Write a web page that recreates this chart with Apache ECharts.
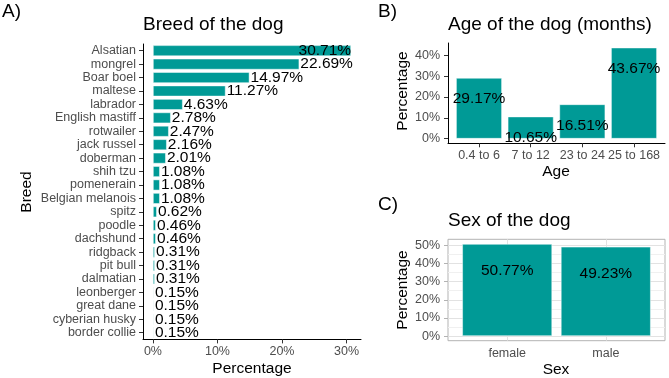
<!DOCTYPE html>
<html>
<head>
<meta charset="utf-8">
<script src="https://cdn.jsdelivr.net/npm/echarts@6/dist/echarts.min.js"></script>
<style>
  html, body { margin: 0; padding: 0; background: #fff; }
  #main { width: 669px; height: 378px; }
</style>
</head>
<body>
<div id="main"></div>
<script>
// A) breed
const breeds = ['Alsatian', 'mongrel', 'Boar boel', 'maltese', 'labrador', 'English mastiff', 'rotwailer',
  'jack russel', 'doberman', 'shih tzu', 'pomenerain', 'Belgian melanois', 'spitz', 'poodle', 'dachshund',
  'ridgback', 'pit bull', 'dalmatian', 'leonberger', 'great dane', 'cyberian husky', 'border collie'];
const breedPct = [30.71, 22.69, 14.97, 11.27, 4.63, 2.78, 2.47, 2.16, 2.01, 1.08, 1.08, 1.08, 0.62, 0.46, 0.46,
  0.31, 0.31, 0.31, 0.15, 0.15, 0.15, 0.15];
const breedTicks = [0, 10, 20, 30];

// B) age
const ageGroups = ['0.4 to 6', '7 to 12', '23 to 24', '25 to 168'];
const agePct = [29.17, 10.65, 16.51, 43.67];
const ageTicks = [0, 10, 20, 30, 40];

// C) sex
const sexes = ['female', 'male'];
const sexPct = [50.77, 49.23];
const sexTicks = [0, 10, 20, 30, 40, 50];
const sexMinorTicks = [5, 15, 25, 35, 45];

const FONT = '"Liberation Sans", Arial, sans-serif';
const TEAL = '#009A96';
const TICK_GREY = '#4D4D4D';

// ggplot style 5% expansion
function expand(maxV) {
    const pad = maxV * 0.05;
    return { min: -pad, max: maxV + pad };
}

function pct(v) {
    return v + '%';
}

function labelStyle(margin) {
    return { color: TICK_GREY, fontSize: 12.5, fontFamily: FONT, margin: margin };
}

const blackLine = { show: true, onZero: false, lineStyle: { color: '#000', width: 1 } };
const blackTick = { show: true, length: 4, lineStyle: { color: '#333', width: 1 } };
const greyTick = { show: true, length: 4, lineStyle: { color: '#B3B3B3', width: 1 } };

function txt(text, x, y, size, opts) {
    opts = opts || {};
    return {
        type: 'text',
        x: x, y: y,
        rotation: opts.rotate ? Math.PI / 2 : 0,
        style: {
            text: text,
            fill: '#000',
            font: size + 'px ' + FONT,
            align: opts.align || 'left',
            verticalAlign: 'middle'
        }
    };
}

const rangeA = expand(Math.max(...breedPct));
const rangeB = expand(Math.max(...agePct));
const rangeC = expand(Math.max(...sexPct));

const barLabel = { show: true, color: '#000', fontSize: 15.5, fontFamily: FONT, formatter: p => {
    const v = Array.isArray(p.value) ? p.value[1] : p.value;
    return v.toFixed(2) + '%';
} };

const gridLine = (c) => ({ color: c, width: 1, type: 'solid' });

const chart = echarts.init(document.getElementById('main'));
chart.setOption({
    animation: false,
    backgroundColor: '#fff',
    grid: [
        { left: 143, top: 44, width: 218, height: 295.4, outerBoundsMode: 'none' },
        { left: 448, top: 43, width: 217, height: 100.3, outerBoundsMode: 'none' },
        { left: 448, top: 239.3, width: 217, height: 101.4, show: true, borderColor: '#B3B3B3', borderWidth: 1, outerBoundsMode: 'none' }
    ],
    xAxis: [
        {
            gridIndex: 0, type: 'value', min: rangeA.min, max: rangeA.max,
            axisLine: blackLine, axisTick: Object.assign({ customValues: breedTicks }, blackTick),
            axisLabel: Object.assign({ customValues: breedTicks, formatter: pct }, labelStyle(6)),
            splitLine: { show: false }
        },
        {
            gridIndex: 1, type: 'value', min: 0.4, max: ageGroups.length + 0.6,
            axisLine: blackLine, axisTick: Object.assign({ customValues: ageGroups.map((d, i) => i + 1) }, blackTick),
            axisLabel: Object.assign({ customValues: ageGroups.map((d, i) => i + 1), formatter: v => ageGroups[v - 1] }, labelStyle(6)),
            splitLine: { show: false }
        },
        {
            gridIndex: 2, type: 'value', min: 0.4, max: sexes.length + 0.6,
            axisLine: { show: false }, axisTick: Object.assign({ customValues: sexes.map((d, i) => i + 1) }, greyTick),
            axisLabel: Object.assign({ customValues: sexes.map((d, i) => i + 1), formatter: v => sexes[v - 1] }, labelStyle(6)),
            splitLine: { show: false }
        }
    ],
    yAxis: [
        {
            gridIndex: 0, type: 'category', data: breeds, inverse: true,
            axisLine: blackLine, axisTick: Object.assign({ alignWithLabel: true, interval: 0 }, blackTick),
            axisLabel: Object.assign({ interval: 0 }, labelStyle(7))
        },
        {
            gridIndex: 1, type: 'value', min: rangeB.min, max: rangeB.max,
            axisLine: blackLine, axisTick: Object.assign({ customValues: ageTicks }, blackTick),
            axisLabel: Object.assign({ customValues: ageTicks, formatter: pct }, labelStyle(8)),
            splitLine: { show: false }
        },
        {
            gridIndex: 2, type: 'value', min: rangeC.min, max: rangeC.max,
            axisLine: { show: false }, axisTick: Object.assign({ customValues: sexTicks }, greyTick),
            axisLabel: Object.assign({ customValues: sexTicks, formatter: pct }, labelStyle(8)),
            splitLine: { show: false }
        }
    ],
    series: [
        {
            type: 'bar', xAxisIndex: 0, yAxisIndex: 0, barWidth: 11,
            itemStyle: { color: TEAL, borderColor: 'rgba(255,255,255,0.6)', borderWidth: 0.8 },
            label: Object.assign({ position: 'right', distance: 1 }, barLabel),
            // biggest bar: label sits inside, as in the original
            data: breedPct.map((v, i) => i === 0 ? { value: v, label: { position: 'insideRight', distance: 0 } } : v)
        },
        {
            type: 'bar', xAxisIndex: 1, yAxisIndex: 1, barWidth: 46,
            itemStyle: { color: TEAL, borderColor: 'rgba(255,255,255,0.6)', borderWidth: 0.8 },
            label: Object.assign({ position: 'insideTop', distance: 13 }, barLabel),
            data: agePct.map((v, i) => [i + 1, v])
        },
        {
            type: 'line', xAxisIndex: 2, yAxisIndex: 2, data: [], z: 1,
            markLine: {
                silent: true, symbol: 'none', label: { show: false }, z: 1,
                data: sexMinorTicks.map(v => ({ yAxis: v, lineStyle: gridLine('#F0F0F0') }))
                    .concat(sexTicks.map(v => ({ yAxis: v, lineStyle: gridLine('#E2E2E2') })))
                    .concat(sexes.map((d, i) => ({ xAxis: i + 1, lineStyle: gridLine('#E2E2E2') })))
            }
        },
        {
            type: 'bar', xAxisIndex: 2, yAxisIndex: 2, barWidth: 90, z: 3,
            itemStyle: { color: TEAL, borderColor: 'rgba(255,255,255,0.6)', borderWidth: 0.8 },
            label: Object.assign({ position: 'insideTop', distance: 19 }, barLabel),
            data: sexPct.map((v, i) => [i + 1, v])
        }
    ],
    graphic: [
        txt('A)', 2, 12, 19),
        txt('Breed of the dog', 143, 25, 19),
        txt('Breed', 27, 192, 15.5, { rotate: true, align: 'center' }),
        txt('Percentage', 252, 369, 15.5, { align: 'center' }),
        txt('B)', 378, 12, 19),
        txt('Age of the dog (months)', 448, 25, 19),
        txt('Percentage', 403, 91, 15.5, { rotate: true, align: 'center' }),
        txt('Age', 556, 172, 15.5, { align: 'center' }),
        txt('C)', 378, 205, 19),
        txt('Sex of the dog', 448, 221, 19),
        txt('Percentage', 403, 290, 15.5, { rotate: true, align: 'center' }),
        txt('Sex', 556, 370, 15.5, { align: 'center' })
    ]
});
</script>
</body>
</html>
